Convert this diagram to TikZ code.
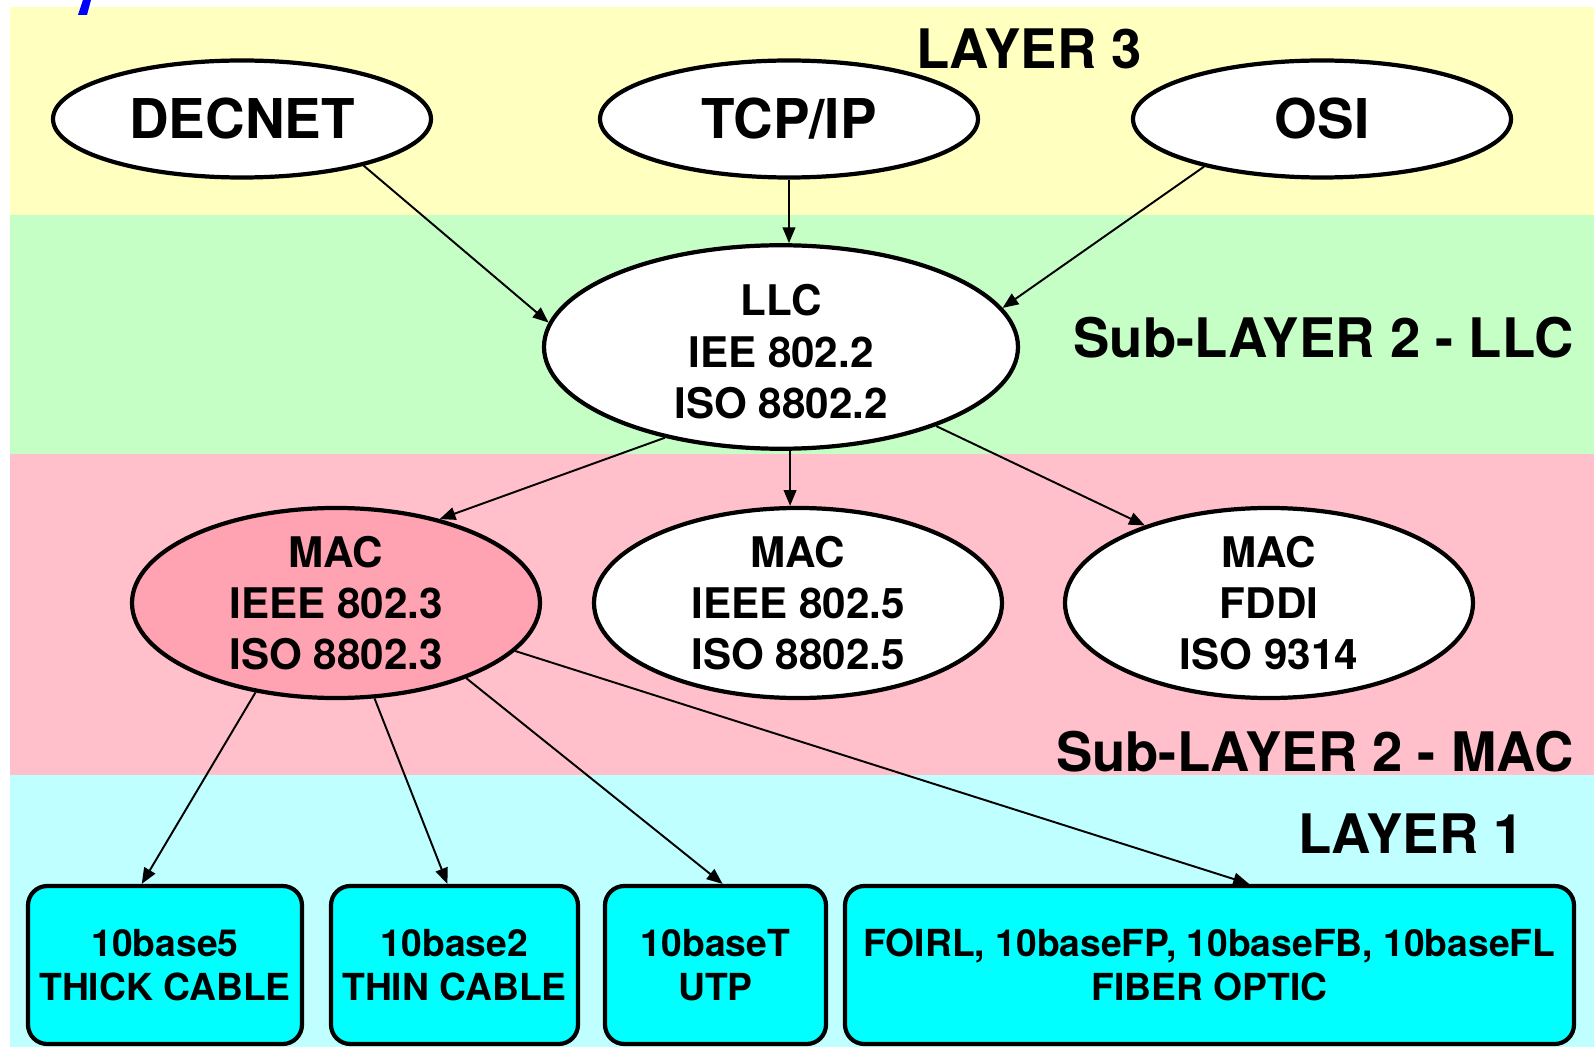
\documentclass[tikz,border=0pt]{standalone}
\usepackage{fontspec}
\setmainfont{TeX Gyre Heros}
\usetikzlibrary{arrows.meta, shapes.geometric}

\definecolor{bandyellow}{RGB}{255,255,192}
\definecolor{bandgreen}{RGB}{198,255,198}
\definecolor{bandpink}{RGB}{255,192,203}
\definecolor{bandcyan}{RGB}{192,255,255}
\definecolor{macpink}{RGB}{255,162,178}
\definecolor{mediacyan}{RGB}{0,255,255}

\tikzset{
  proto/.style={ellipse, draw, line width=1.2pt, fill=white, inner sep=0pt,
    minimum width=37.8mm, minimum height=11.7mm,
    font=\bfseries\fontsize{15.6}{18}\selectfont},
  sub/.style={ellipse, draw, line width=1.2pt, fill=white, inner sep=0pt,
    align=center, font=\bfseries\fontsize{12}{14.6}\selectfont},
  media/.style={rectangle, rounded corners=5.5pt, draw, line width=1.2pt,
    fill=mediacyan, inner sep=0pt, minimum height=15.8mm, align=center,
    font=\bfseries\fontsize{10.6}{12.7}\selectfont},
  layer/.style={inner sep=0pt, font=\bfseries\fontsize{15.5}{18}\selectfont},
  arr/.style={-{Triangle[length=4.5pt,width=3.6pt]}, line width=0.55pt},
}

\begin{document}
\begin{tikzpicture}[x=0.1mm, y=-0.1mm]
        %\draw[step=100,gray,very thin] (0,0) grid (1594,1047);
        \useasboundingbox (0,0) rectangle (1594,1047);

        % bands
        \fill[bandyellow] (10,7) rectangle (1594,215);
        \fill[bandgreen] (10,215) rectangle (1594,454);
        \fill[bandpink] (10,454) rectangle (1594,775);
        \fill[bandcyan] (10,775) rectangle (1594,1047);
        \fill[blue] (78,15) -- (87,15) -- (91,0) -- (83,0) -- cycle;

        \node[layer] (l3) at (1029,49) {LAYER 3};
        \node[layer, anchor=east] (l2llc) at (1574,338) {Sub-LAYER 2 - LLC};
        \node[layer, anchor=east] (l2mac) at (1574,752) {Sub-LAYER 2 - MAC};
        \node[layer] (l1) at (1411,834) {LAYER 1};

        % layer 3
        \node[proto] (decnet) at (242,119) {DECNET};
        \node[proto] (tcpip) at (789,119) {TCP/IP};
        \node[proto] (osi) at (1322,119) {OSI};

        % sub-layers 2
        \node[sub, minimum width=47.4mm, minimum height=19.1mm] (llc) at (781,347)
            {\rule{0pt}{11.6pt}LLC\\IEE 802.2\\ISO 8802.2};
        \node[sub, fill=macpink, minimum width=40.8mm, minimum height=18.8mm] (mac3) at (336,603)
            {MAC\\IEEE 802.3\\ISO 8802.3};
        \node[sub, minimum width=40.8mm, minimum height=18.8mm] (mac5) at (798,603)
            {MAC\\IEEE 802.5\\ISO 8802.5};
        \node[sub, minimum width=40.8mm, minimum height=18.8mm] (fddi) at (1269,603)
            {MAC\\FDDI\\ISO 9314};

        % layer 1
        \node[media, minimum width=27.4mm] (thick) at (165,965) {10base5\\THICK CABLE};
        \node[media, minimum width=24.7mm] (thin) at (454.5,965) {10base2\\THIN CABLE};
        \node[media, minimum width=22.1mm] (utp) at (715.5,965) {10baseT\\UTP};
        \node[media, minimum width=72.9mm] (fiber) at (1209.5,965)
            {FOIRL, 10baseFP, 10baseFB, 10baseFL\\FIBER OPTIC};

        \draw[arr] (decnet.-21) -- (llc.174);
        \draw[arr] (tcpip.south) -- (tcpip.south |- llc.north);
        \draw[arr] (osi.202) -- (llc.10);

        \draw[arr] (llc.218) -- (mac3.39);
        \draw[arr] (llc.-85) -- (llc.-85 |- mac5.north);
        \draw[arr] (llc.-27) -- (fddi.148);

        \draw[arr] (mac3.228) -- (thick.106);
        \draw[arr] (mac3.-68) -- (thin.95);
        \draw[arr] (mac3.-30) -- (utp.85);
        \draw[arr] (mac3.-15) -- (fiber.64);
\end{tikzpicture}
\end{document}
